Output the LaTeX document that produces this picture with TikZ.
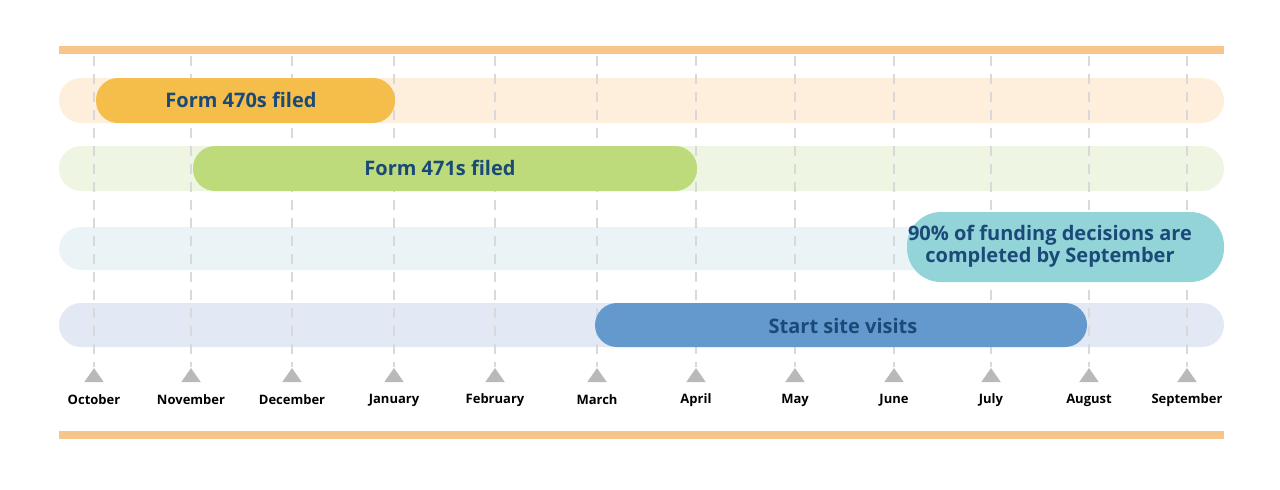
\documentclass[tikz,border=0pt]{standalone}
\usepackage{fontspec}
\setmainfont{Open Sans}
\usetikzlibrary{shapes.geometric}
\definecolor{navy}{HTML}{1B4A78}
\definecolor{rule}{HTML}{F7C48A}
\definecolor{bgorange}{HTML}{FDEFDC}
\definecolor{bggreen}{HTML}{EEF6E3}
\definecolor{bgcyan}{HTML}{EAF4F6}
\definecolor{bgblue}{HTML}{E2E8F4}
\definecolor{barorange}{HTML}{F5BD4A}
\definecolor{bargreen}{HTML}{BDDB7A}
\definecolor{barcyan}{HTML}{92D4D8}
\definecolor{barblue}{HTML}{6399CC}
\begin{document}
\begin{tikzpicture}[x=0.5pt, y=-0.5pt,
  bg/.style = {fill=#1, rounded corners=11pt},
  bar/.style = {fill=#1, rounded corners=11pt},
  lbl/.style = {text=navy, font=\bfseries\fontsize{10}{11}\selectfont, align=center},
  tick/.style = {draw=none, fill=gray!55, isosceles triangle, shape border rotate=90, isosceles triangle apex angle=70, minimum height=7pt, inner sep=0pt},
  month/.style = {font=\bfseries\fontsize{6.5}{7}\selectfont, text=black}]
\useasboundingbox (0,0) rectangle (1280,489);
% top and bottom rules
\fill[rule] (59,46) rectangle (1224,54);
\fill[rule] (59,431) rectangle (1224,439);
% row backgrounds
\fill[bg=bgorange] (59,78) rectangle (1224,123);
\fill[bg=bggreen] (59,146) rectangle (1224,191);
\fill[bg=bgcyan] (59,227) rectangle (1224,270);
\fill[bg=bgblue] (59,303) rectangle (1224,347);
% months
\foreach \x/\m [count=\i] in {94/October,191/November,292/December,394/January,495/February,597/March,696/April,795/May,894/June,991/July,1089/August,1187/September}{
  \node[tick] (t\i) at (\x,377) {};
  \node[month] (m\i) at (\x,400) {\m};
  \coordinate (c\i) at (\x,56);
  \draw[gray!30, line width=0.8pt, dash pattern=on 5pt off 4pt] (c\i) -- (t\i.north);
}
% bars
\fill[bar=barorange] (96,78) rectangle (395,123);
\node[lbl] (f470) at (241,100) {Form 470s filed};
\fill[bar=bargreen] (193,146) rectangle (697,191);
\node[lbl] (f471) at (440,168) {Form 471s filed};
\fill[bar=barcyan, rounded corners=17pt] (907,212) rectangle (1224,282);
\node[lbl] (fund) at (1050,246) {90\% of funding decisions are\\completed by September};
\fill[bar=barblue] (595,303) rectangle (1087,347);
\node[lbl] (site) at (843,326) {Start site visits};
\end{tikzpicture}
\end{document}
